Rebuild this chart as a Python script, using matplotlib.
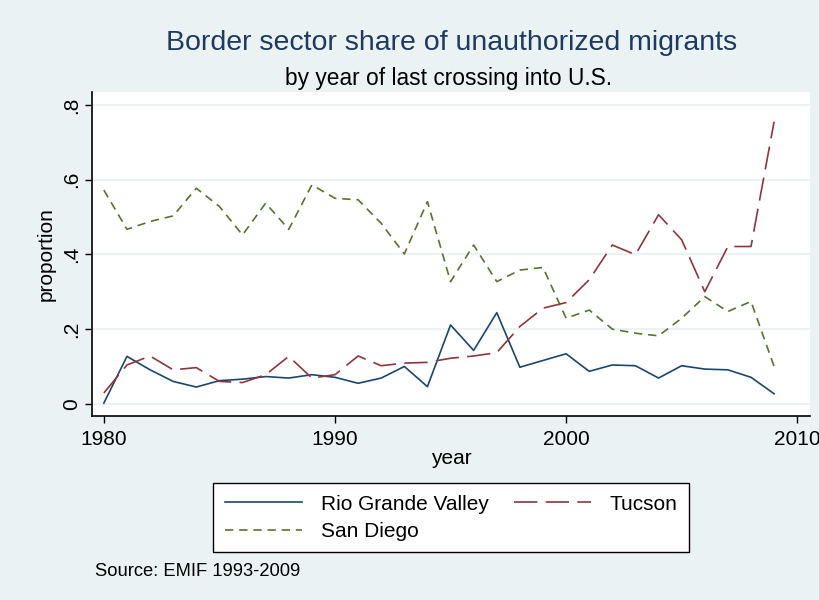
import matplotlib
matplotlib.use("Agg")
import matplotlib.pyplot as plt

years = list(range(1980, 2010))

rio_grande = [0.002, 0.127, 0.091, 0.060, 0.045, 0.062, 0.066, 0.073, 0.069, 0.078,
              0.071, 0.055, 0.069, 0.100, 0.046, 0.211, 0.143, 0.244, 0.098, 0.116,
              0.134, 0.087, 0.104, 0.102, 0.069, 0.102, 0.093, 0.091, 0.071, 0.027]
tucson = [0.029, 0.104, 0.128, 0.091, 0.097, 0.060, 0.057, 0.078, 0.127, 0.069,
          0.078, 0.128, 0.102, 0.109, 0.111, 0.122, 0.128, 0.137, 0.207, 0.256,
          0.271, 0.332, 0.425, 0.399, 0.506, 0.439, 0.300, 0.421, 0.421, 0.755]
san_diego = [0.572, 0.467, 0.488, 0.503, 0.577, 0.528, 0.452, 0.537, 0.467, 0.586,
             0.550, 0.546, 0.483, 0.401, 0.541, 0.327, 0.425, 0.327, 0.358, 0.365,
             0.229, 0.251, 0.200, 0.189, 0.182, 0.229, 0.287, 0.247, 0.274, 0.100]

x_ticks = [1980, 1990, 2000, 2010]
y_ticks = [0, 0.2, 0.4, 0.6, 0.8]
y_labels = ["0", ".2", ".4", ".6", ".8"]

bg = "#EAF2F3"
plt.rcParams["font.family"] = ["Liberation Sans", "DejaVu Sans"]

fig = plt.figure(figsize=(8.2, 6.0), dpi=100, facecolor=bg)
ax = fig.add_axes([0.112, 0.307, 0.876, 0.54])
ax.set_facecolor("white")

l1, = ax.plot(years, rio_grande, color="#1A476F", lw=1.2, label="Rio Grande Valley")
l2, = ax.plot(years, tucson, color="#90353B", lw=1.2, dashes=(14, 5), label="Tucson")
l3, = ax.plot(years, san_diego, color="#55752F", lw=1.2, dashes=(5, 3.5), label="San Diego")

ax.set_xlim(1979.48, 2010.56)
ax.set_ylim(-0.032, 0.835)
ax.set_xticks(x_ticks)
ax.set_yticks(y_ticks)
ax.set_yticklabels(y_labels, rotation=90, va="center")
ax.tick_params(axis="both", labelsize=15, direction="out", length=5, width=1,
               color="black", pad=3)
ax.tick_params(axis="x", pad=5)
ax.yaxis.grid(True, color=bg, lw=1.5)
ax.set_axisbelow(True)
for s in ["top", "right"]:
    ax.spines[s].set_visible(False)
for s in ["left", "bottom"]:
    ax.spines[s].set_color("black")
    ax.spines[s].set_linewidth(1.2)

ax.set_xlabel("year", fontsize=15, labelpad=0)
ax.set_ylabel("proportion", fontsize=15, labelpad=4)

fig.text(0.551, 0.928, "Border sector share of unauthorized migrants",
         ha="center", va="center", fontsize=20.5, color="#1E3A5F")
fig.text(0.547, 0.870, "by year of last crossing into U.S.",
         ha="center", va="center", fontsize=16.4, color="black")

# order so that the first row reads Rio Grande Valley, Tucson
leg = fig.legend([l1, l3, l2], ["Rio Grande Valley", "San Diego", "Tucson"],
                 loc="center", bbox_to_anchor=(0.55, 0.137), ncol=2, fontsize=15,
                 frameon=True, fancybox=False, edgecolor="black", framealpha=1,
                 handlelength=3.7, columnspacing=1.2, borderpad=0.55,
                 labelspacing=0.4, handletextpad=0.9)
leg.get_frame().set_linewidth(1.0)

fig.text(0.116, 0.047, "Source: EMIF 1993-2009", fontsize=13.2, ha="left", va="center")

fig.savefig("out.png", dpi=100, facecolor=bg)
